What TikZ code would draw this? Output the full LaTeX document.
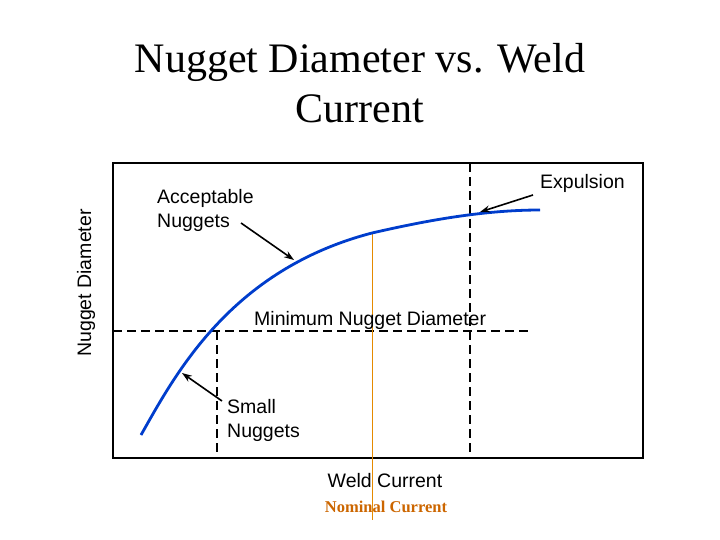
\documentclass[tikz,border=0pt]{standalone}
\usepackage{fontspec}
\setmainfont{Liberation Serif}
\setsansfont{Liberation Sans}
\usetikzlibrary{arrows.meta}
\begin{document}
\begin{tikzpicture}[
      x = 1pt, y = -1pt,
      font = \sffamily,
      label/.style = {
        align = left,
        font = \sffamily\fontsize{19.5}{24}\selectfont,
        inner sep = 0,
      },
      guide/.style = {
        line width = 1.6pt, dash pattern = on 9pt off 5pt,
      },
      pointer/.style = {
        line width = 1.6pt, -{Stealth[length = 10pt, width = 7pt]},
      },
    ]
    \useasboundingbox (0,0) rectangle (720,540);

    \node[align = center, font = \rmfamily\fontsize{42}{50}\selectfont] (title)
      at (360,83) {Nugget Diameter vs. Weld\\Current};

    \draw[line width = 1.8pt] (113,163) rectangle (643,458);
    \node[label, rotate = 90] (ylab) at (86,283) {Nugget Diameter};
    \node[label] (xlab) at (385,481) {Weld Current};

    % guide lines
    \coordinate (minL) at (113,331);
    \coordinate (minR) at (530,331);
    \draw[guide] (minL) -- (minR);
    \draw[guide] (217,331) -- (217,458);
    \draw[guide] (470,163) -- (470,458);

    % nominal current
    \draw[orange!80!yellow!90!black] (372,233) -- (372,520);
    \node[font = \rmfamily\bfseries\fontsize{16.5}{18}\selectfont, text = orange!80!black]
      (nom) at (386,507) {Nominal Current};

    % curve
    \draw[line width = 2.8pt, blue!70!cyan!80!black]
      (141,435) .. controls (175,375) and (230,270) .. (372,233)
      .. controls (420,222) and (480,210) .. (540,210);

    \node[label, anchor = west] (mind) at (254,320) {Minimum Nugget Diameter};
    \node[label, anchor = north west] (acc) at (157,189) {Acceptable\\Nuggets};
    \node[label, anchor = north west] (small) at (227,399) {Small\\Nuggets};
    \node[label, anchor = west] (exp) at (540,183) {Expulsion};

    \coordinate (accTip) at (294,260);
    \coordinate (expTip) at (480,212);
    \coordinate (smallTip) at (182,373);
    \draw[pointer] (241,223) -- (accTip);
    \draw[pointer] (533,195) -- (expTip);
    \draw[pointer] (222,401) -- (smallTip);
\end{tikzpicture}
\end{document}
